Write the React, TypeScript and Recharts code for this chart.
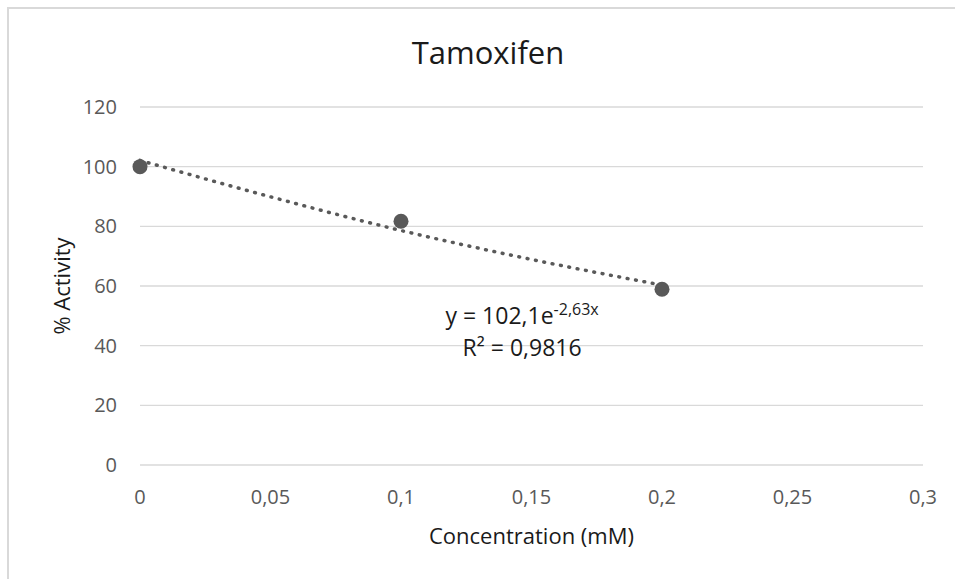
import React from 'react';
import { ComposedChart, XAxis, YAxis, CartesianGrid, Scatter, Line, ReferenceDot } from 'recharts';

const concentrations = [0, 0.1, 0.2];
const activity = [100, 81.7, 58.9];
const trendX = [0, 0.05, 0.1, 0.15, 0.2];
const trendY = [102.1, 89.9, 78.6, 68.9, 60.3];
const xTicks = [0, 0.05, 0.1, 0.15, 0.2, 0.25, 0.3];
const yTicks = [0, 20, 40, 60, 80, 100, 120];
const chartTitle = 'Tamoxifen';
const xTitle = 'Concentration (mM)';
const yTitle = '% Activity';
const eqMain = 'y = 102,1e';
const eqExp = '-2,63x';
const eqR2 = 'R² = 0,9816';
const eqAnchorX = 0.1464;
const eqAnchorY = 47.9;

const points = concentrations.map((x, i) => ({ x, y: activity[i] }));
const trend = trendX.map((x, i) => ({ x, y: trendY[i] }));

const FONT = "'Open Sans', sans-serif";
const fmt = (v: number) => String(v).replace('.', ',');

export default function App() {
  return (
    <div style={{ position: 'absolute', left: 0, top: 0, width: 955, height: 579, background: '#fff', overflow: 'hidden' }}>
      <div
        style={{
          position: 'absolute',
          left: 7,
          top: 7,
          width: 960,
          height: 590,
          borderLeft: '2px solid #d9d9d9',
          borderTop: '2px solid #d9d9d9',
        }}
      />
      <svg style={{ position: 'absolute', left: 0, top: 0 }} width={955} height={100}>
        <text x={488} y={64} textAnchor="middle" fontFamily={FONT} fontSize={31} fill="#1a1a1a">
          {chartTitle}
        </text>
      </svg>
      <div style={{ position: 'absolute', left: 0, top: 0 }}>
        <ComposedChart
          width={955}
          height={579}
          margin={{ top: 107, right: 32, bottom: 24, left: 0 }}
          style={{ fontFamily: FONT }}
        >
          <CartesianGrid horizontal vertical={false} stroke="#d9d9d9" strokeWidth={1.3} />
          <XAxis
            type="number"
            dataKey="x"
            domain={[0, 0.3]}
            ticks={xTicks}
            interval={0}
            tickFormatter={fmt}
            axisLine={false}
            tickLine={false}
            tickSize={0}
            tickMargin={25}
            height={90}
            tick={{ fill: '#595959', fontSize: 20, fontFamily: FONT }}
            label={{
              content: (props: any) => {
                const vb = props.viewBox;
                return (
                  <text x={vb.x + vb.width / 2} y={vb.y + 79} textAnchor="middle" fontFamily={FONT} fontSize={22} fill="#1a1a1a">
                    {xTitle}
                  </text>
                );
              },
            }}
          />
          <YAxis
            type="number"
            domain={[0, 120]}
            ticks={yTicks}
            interval={0}
            axisLine={false}
            tickLine={false}
            tickSize={0}
            tickMargin={23}
            width={140}
            tick={{ fill: '#595959', fontSize: 20, fontFamily: FONT }}
            label={{
              content: (props: any) => {
                const vb = props.viewBox;
                const cx = vb.x + 61;
                const cy = vb.y + vb.height / 2;
                return (
                  <text
                    x={cx}
                    y={cy}
                    transform={`rotate(-90, ${cx}, ${cy})`}
                    textAnchor="middle"
                    dominantBaseline="central"
                    fontFamily={FONT}
                    fontSize={22}
                    fill="#1a1a1a"
                  >
                    {yTitle}
                  </text>
                );
              },
            }}
          />
          <Line
            data={trend}
            dataKey="y"
            type="monotone"
            stroke="#595959"
            strokeWidth={3.5}
            strokeDasharray="0.8 7.7"
            strokeLinecap="round"
            dot={false}
            activeDot={false}
            isAnimationActive={false}
          />
          <Scatter
            data={points}
            dataKey="y"
            fill="#595959"
            isAnimationActive={false}
            shape={(p: any) => <circle cx={p.cx} cy={p.cy} r={7.5} fill="#595959" />}
          />
          <ReferenceDot
            x={eqAnchorX}
            y={eqAnchorY}
            r={0}
            shape={(p: any) => (
              <g>
                <text x={p.cx} y={p.cy + 2} textAnchor="middle" fontFamily={FONT} fontSize={23} fill="#1a1a1a">
                  {eqMain}
                  <tspan fontSize={16} dy={-9}>{eqExp}</tspan>
                </text>
                <text x={p.cx} y={p.cy + 34} textAnchor="middle" fontFamily={FONT} fontSize={23} fill="#1a1a1a">
                  {eqR2}
                </text>
              </g>
            )}
          />
        </ComposedChart>
      </div>
    </div>
  );
}
